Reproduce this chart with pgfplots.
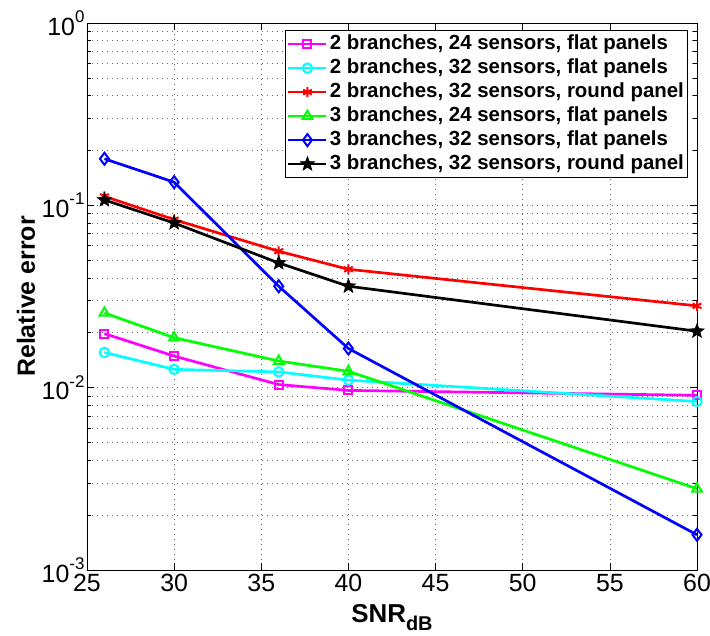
\documentclass[border=0pt]{standalone}
\usepackage{fontspec}
\setmainfont{Liberation Sans}
\usepackage{pgfplots}
\pgfplotsset{compat=1.18}

\definecolor{mmag}{rgb}{1,0,1}
\definecolor{mcyan}{rgb}{0,1,1}
\definecolor{mred}{rgb}{1,0,0}
\definecolor{mgreen}{rgb}{0,1,0}
\definecolor{mblue}{rgb}{0,0,1}

% filled five-pointed star, like MATLAB 'p'
\pgfdeclareplotmark{fstar}{%
  \pgfpathmoveto{\pgfpointpolar{90}{\pgfplotmarksize}}%
  \pgfpathlineto{\pgfpointpolar{126}{0.42\pgfplotmarksize}}%
  \pgfpathlineto{\pgfpointpolar{162}{\pgfplotmarksize}}%
  \pgfpathlineto{\pgfpointpolar{198}{0.42\pgfplotmarksize}}%
  \pgfpathlineto{\pgfpointpolar{234}{\pgfplotmarksize}}%
  \pgfpathlineto{\pgfpointpolar{270}{0.42\pgfplotmarksize}}%
  \pgfpathlineto{\pgfpointpolar{306}{\pgfplotmarksize}}%
  \pgfpathlineto{\pgfpointpolar{342}{0.42\pgfplotmarksize}}%
  \pgfpathlineto{\pgfpointpolar{18}{\pgfplotmarksize}}%
  \pgfpathlineto{\pgfpointpolar{54}{0.42\pgfplotmarksize}}%
  \pgfpathclose
  \pgfusepathqfillstroke}

\newcommand\tp[1]{10\raisebox{0.5em}{\fontsize{17}{17}\selectfont #1}}

\pgfplotsset{ml/.style={line width=2.7bp, mark options={solid, line width=2bp}}}

\begin{document}
\begin{tikzpicture}
\useasboundingbox (-87bp,-66bp) rectangle (623bp,570bp);
\begin{axis}[
  at={(0,0)}, anchor=south west,
  width=610bp, height=547bp, scale only axis,
  xmin=25, xmax=60,
  ymode=log, ymin=1e-3, ymax=1,
  xtick={25,30,...,60},
  ytick={1e-3,1e-2,1e-1,1},
  yticklabels={\tp{-3},\tp{-2},\tp{-1},\tp{0}},
  /pgf/number format/assume math mode=true,
  ticklabel style={font=\fontsize{25}{25}\selectfont},
  xticklabel style={yshift=-1bp},
  yticklabel style={xshift=1bp},
  tick align=inside,
  major tick length=7bp, minor tick length=4bp,
  tick style={black, line width=0.6bp},
  axis line style={line width=0.8bp},
  xmajorgrids, ymajorgrids, yminorgrids,
  grid style={black!60, line width=0.6bp, dash pattern=on 1bp off 4bp},
  minor grid style={black!60, line width=0.6bp, dash pattern=on 1bp off 4bp},
  xlabel={SNR\raisebox{-0.32em}{\fontsize{20}{20}\selectfont dB}},
  xlabel style={font=\bfseries\fontsize{26}{26}\selectfont,
    at={(axis description cs:0.5,0)}, anchor=base, yshift=-52bp},
  ylabel={Relative error},
  ylabel style={font=\bfseries\fontsize{25}{25}\selectfont,
    at={(axis description cs:-0.1,0.5)}, anchor=center},
  legend style={at={(rel axis cs:1,1)}, anchor=north east,
    xshift=-9bp, yshift=-7bp, draw=black, line width=1.2bp,
    font=\bfseries\fontsize{20.5}{20.5}\selectfont,
    inner sep=1.5bp, row sep=0pt,
    nodes={inner ysep=2.5bp, text height=14.5bp, text depth=4.5bp},
    cells={anchor=west}},
  legend image code/.code={%
    \draw[mark repeat=2, mark phase=2]
      plot coordinates {(0bp,0bp) (19bp,0bp) (38bp,0bp)};},
]
\addplot[ml, mmag, mark=square, mark size=4bp]
  coordinates {(26,0.0198)(30,0.0149)(36,0.0104)(40,0.00966)(60,0.00908)};
\addlegendentry{2 branches, 24 sensors, flat panels}
\addplot[ml, mcyan, mark=o, mark size=4.7bp]
  coordinates {(26,0.0156)(30,0.0126)(36,0.0122)(40,0.0110)(60,0.0084)};
\addlegendentry{2 branches, 32 sensors, flat panels}
\addplot[ml, mred, mark=asterisk, mark size=5bp]
  coordinates {(26,0.112)(30,0.0835)(36,0.056)(40,0.0446)(60,0.0281)};
\addlegendentry{2 branches, 32 sensors, round panel}
\addplot[ml, mgreen, mark=triangle, mark size=5.5bp]
  coordinates {(26,0.0257)(30,0.0188)(36,0.0140)(40,0.0123)(60,0.00279)};
\addlegendentry{3 branches, 24 sensors, flat panels}
\addplot[ml, mblue, mark=diamond, mark size=6bp]
  coordinates {(26,0.180)(30,0.134)(36,0.0360)(40,0.0164)(60,0.00156)};
\addlegendentry{3 branches, 32 sensors, flat panels}
\addplot[ml, black, mark=fstar, mark size=7.5bp, mark options={line width=0.6bp}]
  coordinates {(26,0.107)(30,0.080)(36,0.0483)(40,0.036)(60,0.0204)};
\addlegendentry{3 branches, 32 sensors, round panel}
\end{axis}
\end{tikzpicture}
\end{document}
